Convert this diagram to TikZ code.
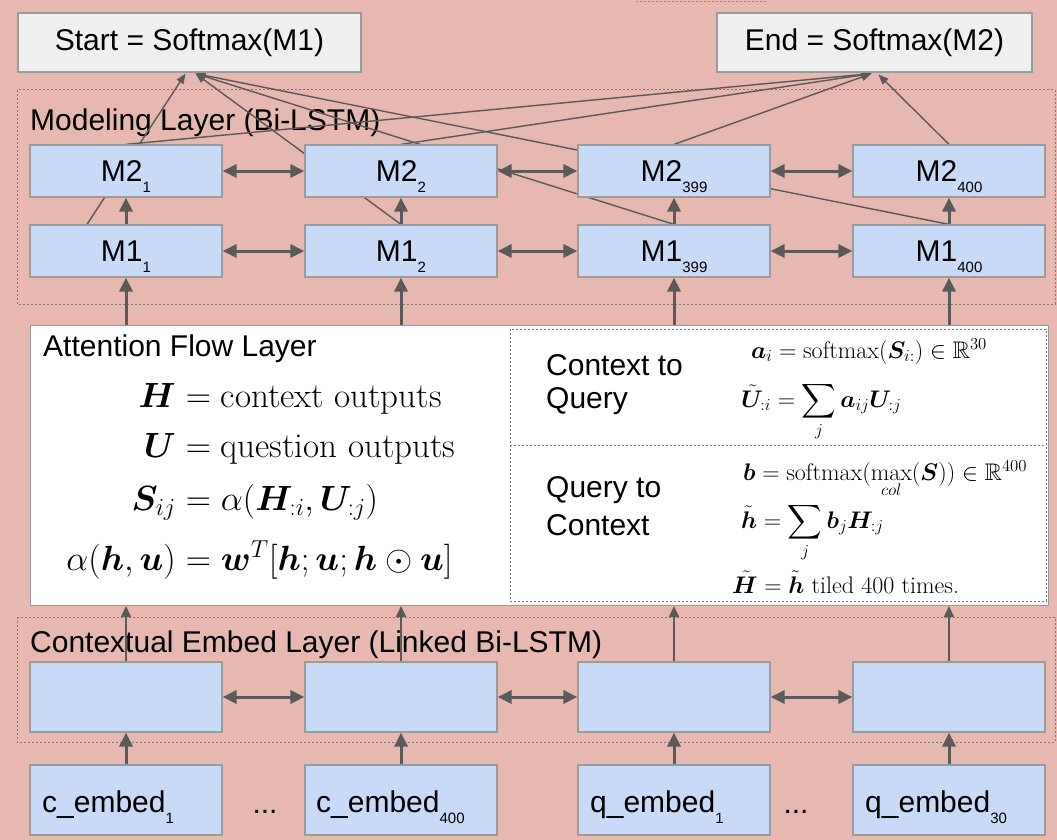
\RequirePackage{fix-cm}
\documentclass[tikz,border=0pt]{standalone}
\usepackage{amsmath,amssymb,bm}
\usepackage{fontspec}
\newfontfamily\lib{Liberation Sans}
\usetikzlibrary{arrows.meta,calc}
\definecolor{bgpink}{HTML}{E6B8AF}
\definecolor{boxblue}{HTML}{C9DAF8}
\definecolor{boxgray}{HTML}{EFEFEF}
\definecolor{edgegray}{HTML}{9A9A9A}
\definecolor{arrgray}{HTML}{5A5A5A}
\definecolor{dashgray}{HTML}{7A7A7A}
\definecolor{fragred}{HTML}{E06666}
\newcommand\subx[1]{\smash{\raisebox{-11pt}{\fontsize{15}{15}\selectfont #1}}}
\pgfdeclarelayer{bglayer}
\pgfdeclarelayer{linelayer}
\pgfsetlayers{bglayer,linelayer,main}
\begin{document}
\begin{tikzpicture}[x=1pt,y=-1pt,
 lbl/.style={font=\lib\fontsize{30}{36}\selectfont, inner sep=0},
 mbox/.style={draw=edgegray, fill=boxblue, line width=1.2, minimum width=192, minimum height=52, inner sep=0, font=\lib\fontsize{30}{36}\selectfont},
 cbox/.style={mbox, minimum height=70},
 sbox/.style={draw=edgegray, fill=boxgray, line width=1.2, minimum height=59, inner sep=0, font=\lib\fontsize{30}{36}\selectfont},
 layerbox/.style={draw=dashgray, line width=1, dash pattern=on 2pt off 2pt},
 thinarr/.style={draw=arrgray, line width=1.4, -{Triangle[length=10,width=8]}},
 thickarr/.style={draw=arrgray, line width=3, -{Triangle[length=14,width=13]}},
 medarr/.style={draw=arrgray, line width=1.6, -{Triangle[length=11,width=10]}},
 dblarr/.style={draw=arrgray, line width=3, {Triangle[length=14,width=13]}-{Triangle[length=14,width=13]}},
 bigmath/.style={inner sep=0, font=\fontsize{35}{42}\selectfont},
 smath/.style={inner sep=0, anchor=base west, font=\fontsize{24}{29}\selectfont},
]
\useasboundingbox (0,0) rectangle (1057,840);
\begin{pgfonlayer}{bglayer}
\fill[bgpink] (0,0) rectangle (1057,840);
\draw[fragred, line width=1, dash pattern=on 2pt off 2pt] (636,2) -- (766,2);
\draw[layerbox] (17,90) rectangle (1055,304);
\draw[layerbox] (17,617) rectangle (1055,742);
\node[lbl, anchor=base west] (modlab) at (30,131) {Modeling Layer (Bi-LSTM)};
\node[lbl, anchor=base west] (ctxlab) at (30,652) {Contextual Embed Layer (Linked Bi-LSTM)};
\end{pgfonlayer}

% output boxes
\node[sbox, minimum width=343] (startn) at (189.5,42.5) {Start = Softmax(M1)};
\node[sbox, minimum width=315] (endn) at (874.5,42.5) {End = Softmax(M2)};

% modeling layer
\node[mbox] (m21) at (126,171) {M2\subx{1}};
\node[mbox] (m22) at (401,171) {M2\subx{2}};
\node[mbox] (m2a) at (674,171) {M2\subx{399}};
\node[mbox] (m2b) at (949,171) {M2\subx{400}};
\node[mbox] (m11) at (126,251) {M1\subx{1}};
\node[mbox] (m12) at (401,251) {M1\subx{2}};
\node[mbox] (m1a) at (674,251) {M1\subx{399}};
\node[mbox] (m1b) at (949,251) {M1\subx{400}};

% attention flow layer
\node[draw=edgegray, fill=white, line width=1, minimum width=1018, minimum height=280, inner sep=0, anchor=north west] (att) at (30,325) {};
\draw[layerbox] (510,329) rectangle (1046,601);
\draw[layerbox] (510,445) -- (1046,445);
\node[lbl, anchor=base west] (attl) at (43,356) {Attention Flow Layer};
\node[lbl, anchor=base west] (cq1) at (546,375) {Context to};
\node[lbl, anchor=base west] (cq2) at (546,408) {Query};
\node[lbl, anchor=base west] (qc1) at (546,497) {Query to};
\node[lbl, anchor=base west] (qc2) at (546,535) {Context};

\node[bigmath, anchor=base east] (l1) at (176,407) {$\bm{H}$};
\node[bigmath, anchor=base west] (r1) at (176,407) {${}=\text{context outputs}$};
\node[bigmath, anchor=base east] (l2) at (176,457) {$\bm{U}$};
\node[bigmath, anchor=base west] (r2) at (176,457) {${}=\text{question outputs}$};
\node[bigmath, anchor=base east] (l3) at (176,510) {$\bm{S}_{ij}$};
\node[bigmath, anchor=base west] (r3) at (176,510) {${}=\alpha(\bm{H}_{{:}i},\bm{U}_{{:}j})$};
\node[bigmath, anchor=base east] (l4) at (176,570) {$\alpha(\bm{h},\bm{u})$};
\node[bigmath, anchor=base west] (r4) at (176,570) {${}=\bm{w}^T[\bm{h};\bm{u};\bm{h}\odot\bm{u}]$};

\node[smath] (f1) at (751,358) {$\bm{a}_i=\mathrm{softmax}(\bm{S}_{i{:}})\in\mathbb{R}^{30}$};
\node[smath] (f2) at (741,407) {$\tilde{\bm{U}}_{{:}i}=\displaystyle\sum_j\bm{a}_{ij}\bm{U}_{{:}j}$};
\node[smath] (f3) at (743,480) {$\bm{b}=\mathrm{softmax}(\max\limits_{col}(\bm{S}))\in\mathbb{R}^{400}$};
\node[smath] (f4) at (741,528) {$\tilde{\bm{h}}=\displaystyle\sum_j\bm{b}_j\bm{H}_{{:}j}$};
\node[smath] (f5) at (732,593) {$\tilde{\bm{H}}=\tilde{\bm{h}}$ tiled 400 times.};

% contextual embed layer
\node[cbox] (c1) at (126,697) {};
\node[cbox] (c2) at (401,697) {};
\node[cbox] (c3) at (674,697) {};
\node[cbox] (c4) at (949,697) {};

% embeddings
\node[cbox] (e1) at (126,800) {};
\node[cbox] (e2) at (401,800) {};
\node[cbox] (e3) at (674,800) {};
\node[cbox] (e4) at (949,800) {};
\node[lbl, anchor=base west] (e1t) at (42,812) {c\_embed\subx{1}};
\node[lbl, anchor=base west] (e2t) at (316,812) {c\_embed\subx{400}};
\node[lbl, anchor=base west] (e3t) at (590,812) {q\_embed\subx{1}};
\node[lbl, anchor=base west] (e4t) at (865,812) {q\_embed\subx{30}};
\node[lbl, anchor=base] (d1) at (265,813) {...};
\node[lbl, anchor=base] (d2) at (796,813) {...};

% lines behind boxes
\begin{pgfonlayer}{linelayer}
\draw[thinarr] ($(m11.north)+(-39,0)$) -- ($(startn.south)+(-4,1)$);
\draw[thinarr] (m12.north) -- ($(startn.south)+(6,1)$);
\draw[thinarr] (m1a.north) -- ($(startn.south)+(6,1)$);
\draw[thinarr] (m1b.north) -- ($(startn.south)+(6,1)$);
\draw[thinarr] (m21.north) -- ($(endn.south)+(-3,1)$);
\draw[thinarr] (m22.north) -- ($(endn.south)+(-3,1)$);
\draw[thinarr] (m2a.north) -- ($(endn.south)+(-3,1)$);
\draw[thinarr] (m2b.north) -- ($(endn.south)+(4,2)$);
\foreach \c in {c1,c2,c3,c4}{
  \draw[medarr] (\c.north) -- (\c.north |- att.south);
}
\end{pgfonlayer}

% thick arrows
\foreach \a/\b in {m11/m21,m12/m22,m1a/m2a,m1b/m2b,e1/c1,e2/c2,e3/c3,e4/c4}{
  \draw[thickarr] (\a) -- (\b);
}
\foreach \b in {m11,m12,m1a,m1b}{
  \draw[thickarr] (\b.south |- att.north) -- (\b.south);
}
\foreach \a/\b in {m21/m22,m22/m2a,m2a/m2b,m11/m12,m12/m1a,m1a/m1b,c1/c2,c2/c3,c3/c4}{
  \draw[dblarr] (\a) -- (\b);
}
\end{tikzpicture}
\end{document}
